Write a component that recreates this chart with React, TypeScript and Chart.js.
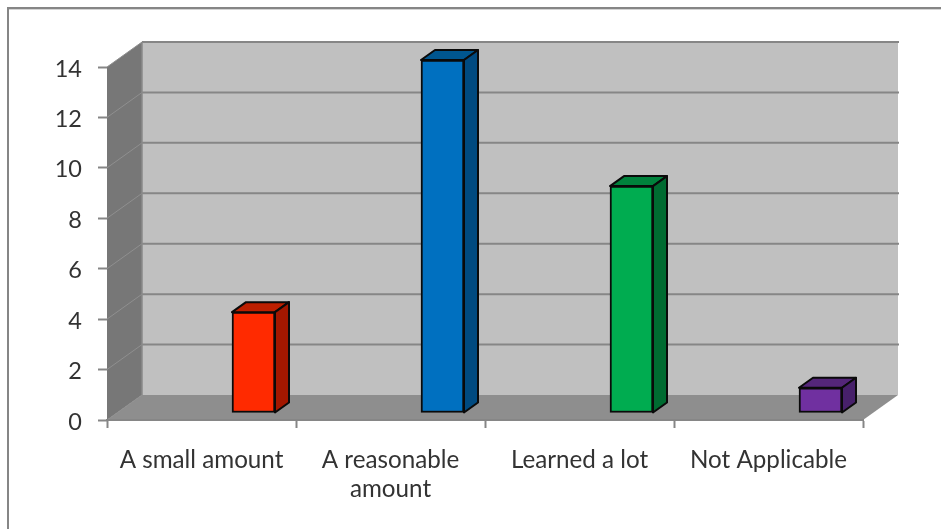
import React, { useEffect, useRef } from "react";
import { Chart, registerables } from "chart.js";

Chart.register(...registerables);

const categories: (string | string[])[] = ["A small amount", ["A reasonable", "amount"], "Learned a lot", "Not Applicable"];
const values = [4, 14, 9, 1];
const frontColors = ["#ff2a00", "#0070c0", "#00ac50", "#7030a0"];
const sideColors = ["#a31700", "#004a80", "#006b31", "#47206a"];
const topColors = ["#bd1f00", "#00568f", "#00823c", "#542679"];
const yMax = 14;
const yStep = 2;

const WALL_DX = 35;
const WALL_DY = 25;
const BAR_DX = 52;
const BAR_DY = -7;
const SIDE_DX = 14;
const SIDE_DY = 10;
const GRAY = "#868686";
const Y_LABEL_NUDGE = 2;

const poly = (ctx: CanvasRenderingContext2D, pts: number[][], fill: string, stroke?: string, lw = 2) => {
  ctx.beginPath();
  pts.forEach(([x, y], i) => (i ? ctx.lineTo(x, y) : ctx.moveTo(x, y)));
  ctx.closePath();
  ctx.fillStyle = fill;
  ctx.fill();
  if (stroke) {
    ctx.strokeStyle = stroke;
    ctx.lineWidth = lw;
    ctx.lineJoin = "round";
    ctx.stroke();
  }
};

const box3d = {
  id: "box3d",
  beforeDraw(chart: any) {
    const { ctx, chartArea: a, width, height, scales } = chart;
    ctx.save();
    // move the y tick labels down a little, as in the reference
    scales.y.getLabelItems(a).forEach((item: any) => {
      if (!item.__nudged) {
        item.options.translation[1] += Y_LABEL_NUDGE;
        item.__nudged = true;
      }
    });
    // outer frame
    ctx.fillStyle = "#ffffff";
    ctx.fillRect(0, 0, width, height);
    ctx.fillStyle = "#d4d4d4";
    ctx.fillRect(8, 9, width, 1);
    ctx.fillStyle = GRAY;
    ctx.fillRect(7, 7, width, 2);
    ctx.fillRect(7, 7, 2, height);

    const l = a.left, r = a.right, t = a.top, b = a.bottom;
    const bl = l + WALL_DX, br = r + WALL_DX, bt = t - WALL_DY, bb = b - WALL_DY;
    // back wall
    poly(ctx, [[bl, bt], [br, bt], [br, bb], [bl, bb]], "#c0c0c0");
    // left wall
    poly(ctx, [[l, t], [bl, bt], [bl, bb], [l, b]], "#777777");
    // floor
    poly(ctx, [[l, b], [bl, bb], [br, bb], [r, b]], "#8e8e8e");

    // gridlines from the y scale
    scales.y.ticks.forEach((tk: any) => {
      const y = scales.y.getPixelForValue(tk.value);
      ctx.strokeStyle = "#8f8f8f";
      ctx.lineWidth = 1;
      ctx.beginPath();
      ctx.moveTo(l, y);
      ctx.lineTo(bl, y - WALL_DY);
      ctx.stroke();
      if (tk.value > 0) {
        ctx.strokeStyle = GRAY;
        ctx.lineWidth = 2;
        ctx.beginPath();
        ctx.moveTo(bl, y - WALL_DY);
        ctx.lineTo(br + 1, y - WALL_DY);
        ctx.stroke();
      }
    });
    ctx.strokeStyle = "#8a8a8a";
    ctx.lineWidth = 1.5;
    ctx.beginPath();
    ctx.moveTo(bl, bt);
    ctx.lineTo(bl, bb);
    ctx.stroke();
    ctx.restore();
  },
  beforeDatasetDraw(chart: any) {
    const { ctx } = chart;
    const meta = chart.getDatasetMeta(0);
    ctx.save();
    ctx.translate(BAR_DX, BAR_DY);
    meta.data.forEach((el: any, i: number) => {
      const half = el.width / 2;
      const L = el.x - half, R = el.x + half, T = el.y, B = el.base;
      poly(ctx, [[L, T], [L + SIDE_DX, T - SIDE_DY], [R + SIDE_DX, T - SIDE_DY], [R, T]], topColors[i], "#0a0a0a");
      poly(ctx, [[R, T], [R + SIDE_DX, T - SIDE_DY], [R + SIDE_DX, B - SIDE_DY], [R, B]], sideColors[i], "#0a0a0a");
    });
    // keep the translation for the bars themselves; undone in afterDatasetDraw
  },
  afterDatasetDraw(chart: any) {
    chart.ctx.restore();
  },
};

export default function App() {
  const ref = useRef<HTMLCanvasElement>(null);
  useEffect(() => {
    const chart = new Chart(ref.current!, {
      type: "bar",
      data: {
        labels: categories as any,
        datasets: [
          {
            data: values,
            backgroundColor: frontColors,
            borderColor: "#0a0a0a",
            borderWidth: 2,
            borderSkipped: false as any,
            barThickness: 43,
            clip: false as any,
          },
        ],
      },
      options: {
        animation: false,
        responsive: false,
        layout: { padding: { left: 0, top: 67, right: 78, bottom: 0 } },
        plugins: { legend: { display: false }, tooltip: { enabled: false }, title: { display: false } },
        scales: {
          x: {
            afterFit: (s: any) => { s.height = 109; },
            border: { display: true, color: GRAY, width: 2 },
            grid: { drawOnChartArea: false, drawTicks: true, tickLength: 8, tickWidth: 2, color: GRAY },
            ticks: {
              color: "#333333",
              padding: 17.5,
              maxRotation: 0,
              autoSkip: false,
              font: { family: "Lato", size: 24.2, lineHeight: 1.19 },
            },
          },
          y: {
            min: 0,
            max: yMax,
            afterFit: (s: any) => { s.width = 107; },
            border: { display: false },
            grid: { drawOnChartArea: false, drawTicks: true, tickLength: 9, tickWidth: 2, color: GRAY },
            ticks: {
              stepSize: yStep,
              color: "#333333",
              padding: 16,
              font: { family: "Lato", size: 23.5 },
            },
          },
        },
      },
      plugins: [box3d as any],
    });
    return () => chart.destroy();
  }, []);
  return (
    <div style={{ position: "fixed", left: 0, top: 0, width: 941, height: 529 }}>
      <canvas ref={ref} width={941} height={529} style={{ display: "block", width: 941, height: 529, filter: "blur(0.4px)" }} />
    </div>
  );
}
